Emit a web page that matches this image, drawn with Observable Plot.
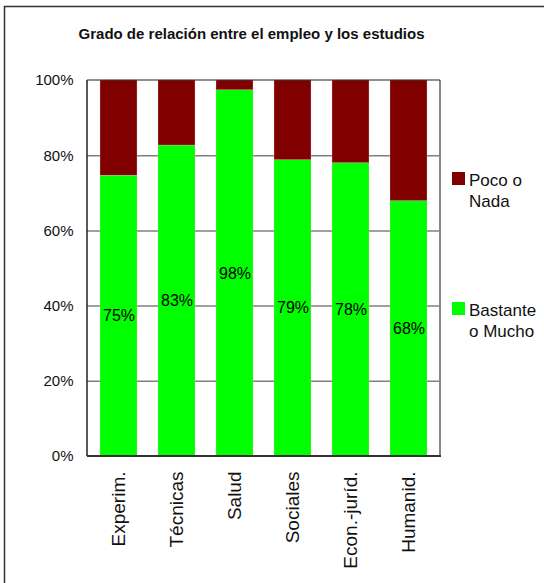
<!DOCTYPE html>
<html>
<head>
<meta charset="utf-8">
<script src="https://cdn.jsdelivr.net/npm/d3@7"></script>
<script src="https://cdn.jsdelivr.net/npm/@observablehq/plot@0.6"></script>
<style>
  html, body { margin: 0; padding: 0; background: #fff; }
  svg { display: block; }
</style>
</head>
<body>
<div id="chart"></div>
<script>
const categories = ["Experim.", "Técnicas", "Salud", "Sociales", "Econ.-juríd.", "Humanid."];
const bastanteValues = [74.7, 82.7, 97.4, 78.8, 78.0, 67.9];
const bastanteLabels = ["75%", "83%", "98%", "79%", "78%", "68%"];
const seriesNames = ["Bastante o Mucho", "Poco o Nada"];
const seriesColors = ["#00ff00", "#800000"];
const yTicks = [0, 20, 40, 60, 80, 100];
const titleText = "Grado de relación entre el empleo y los estudios";

const rows = [];
categories.forEach((c, i) => {
  rows.push({cat: c, serie: seriesNames[0], v: bastanteValues[i]});
  rows.push({cat: c, serie: seriesNames[1], v: 100 - bastanteValues[i]});
});
const labelRows = categories.map((c, i) => ({cat: c, y: bastanteValues[i] / 2, label: bastanteLabels[i]}));

const FONT = "Liberation Sans, Arial, sans-serif";
const W = 544, H = 583;
const plot = Plot.plot({
  width: W,
  height: H,
  marginLeft: 87,
  marginRight: 104,
  marginTop: 80,
  marginBottom: 127,
  style: {fontFamily: FONT, background: "#fff", overflow: "visible"},
  x: {domain: categories, paddingInner: 0.354, paddingOuter: 0.18, label: null, tickSize: 0},
  y: {domain: [0, 100], label: null, ticks: yTicks, tickSize: 0},
  color: {domain: seriesNames, range: seriesColors},
  marks: [
    Plot.gridY(yTicks.filter(t => t > 0 && t < 100), {stroke: "#808080", strokeOpacity: 1, strokeWidth: 1.5}),
    Plot.barY(rows, Plot.stackY({x: "cat", y: "v", fill: "serie", order: seriesNames, stroke: "#f0c0c0", strokeWidth: 0.3})),
    Plot.text(labelRows, {x: "cat", y: "y", text: "label", fontSize: 16, fill: "#000"}),
    Plot.axisY({ticks: yTicks, tickFormat: d => d + "%", fontSize: 15, tickSize: 0, tickPadding: 14, fill: "#111"}),
    Plot.axisX({tickSize: 0, tickRotate: -90, fontSize: 19, tickPadding: 15, fill: "#111"})
  ]
});
document.getElementById("chart").appendChild(plot);

const svg = d3.select(plot);
const fx = 87, fy0 = 80, fy1 = 456, fx1 = 440;
svg.append("line").attr("x1", fx1).attr("x2", fx1).attr("y1", fy0).attr("y2", fy1).attr("stroke", "#888").attr("stroke-width", 2);
svg.append("line").attr("x1", fx).attr("x2", fx1).attr("y1", fy0).attr("y2", fy0).attr("stroke", "#222").attr("stroke-width", 1);
svg.append("line").attr("x1", fx).attr("x2", fx).attr("y1", fy0).attr("y2", fy1).attr("stroke", "#222").attr("stroke-width", 1.5);
svg.append("line").attr("x1", fx).attr("x2", fx1 + 1).attr("y1", fy1).attr("y2", fy1).attr("stroke", "#333").attr("stroke-width", 2);

// outer border (extends beyond the visible area at right/bottom)
svg.append("rect").attr("x", 4.5).attr("y", 6.5).attr("width", 560).attr("height", 600)
  .attr("fill", "none").attr("stroke", "#333").attr("stroke-width", 1.5);

// title
svg.append("text").attr("x", 251.5).attr("y", 39).attr("text-anchor", "middle")
  .attr("font-family", FONT).attr("font-weight", "bold").attr("font-size", 15)
  .attr("fill", "#111").text(titleText);

// legend
const legend = [
  {color: seriesColors[1], lines: ["Poco o", "Nada"], y: 172},
  {color: seriesColors[0], lines: ["Bastante", "o Mucho"], y: 302}
];
legend.forEach(l => {
  svg.append("rect").attr("x", 452).attr("y", l.y).attr("width", 13).attr("height", 13).attr("fill", l.color);
  l.lines.forEach((t, k) => {
    svg.append("text").attr("x", 469).attr("y", l.y + 13.5 + k * 21.5)
      .attr("text-anchor", "start")
      .attr("font-family", FONT).attr("font-size", 17).attr("fill", "#111").text(t);
  });
});
</script>
</body>
</html>
